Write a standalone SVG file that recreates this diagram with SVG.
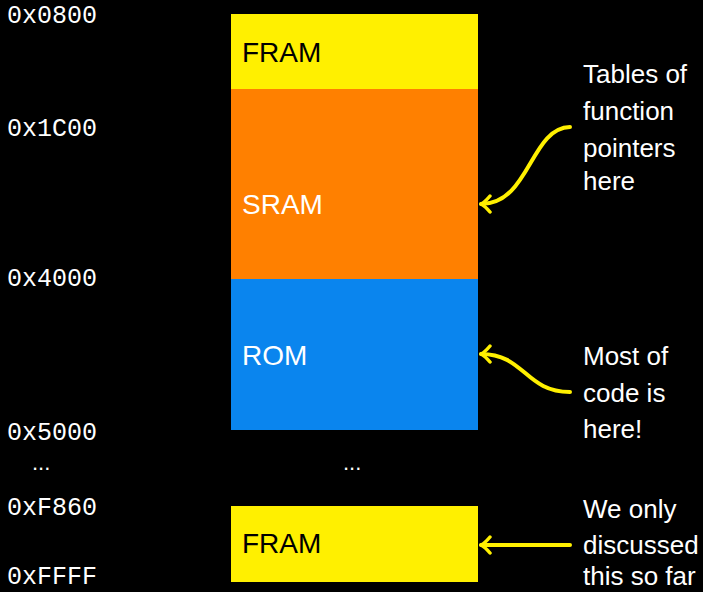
<svg xmlns="http://www.w3.org/2000/svg" width="703" height="592" viewBox="0 0 703 592">
  <defs>
    <style>
      .addr { font-family: "Liberation Mono", "Courier New", monospace; font-size: 25px; fill: #ffffff; }
      .seg { font-family: "Liberation Sans", Arial, sans-serif; font-size: 28px; }
      .note { font-family: "Liberation Sans", Arial, sans-serif; font-size: 26px; fill: #ffffff; }
      .dots { font-family: "Liberation Sans", Arial, sans-serif; font-size: 22px; fill: #ffffff; }
      .wire { fill: none; stroke: #fff000; stroke-width: 4; stroke-linecap: round; }
    </style>
    <marker id="tip" viewBox="-12 -10 14 20" markerWidth="14" markerHeight="20" refX="0" refY="0" orient="auto" markerUnits="userSpaceOnUse">
      <path d="M-9,-8 Q-4,-2 0,0 Q-4,2 -9,8" fill="none" stroke="#fff000" stroke-width="3.5" stroke-linecap="round" stroke-linejoin="round"/>
    </marker>
  </defs>

  <rect width="703" height="592" fill="#000000"/>

  <!-- address column -->
  <g id="addresses">
    <text class="addr" x="7" y="23">0x0800</text>
    <text class="addr" x="7" y="136">0x1C00</text>
    <text class="addr" x="7" y="286">0x4000</text>
    <text class="addr" x="7" y="440">0x5000</text>
    <text class="dots" x="32" y="470">...</text>
    <text class="addr" x="7" y="515">0xF860</text>
    <text class="addr" x="7" y="584">0xFFFF</text>
  </g>

  <!-- memory segments -->
  <g id="fram-low">
    <rect x="231" y="14" width="247" height="76" fill="#fff000"/>
    <text class="seg" x="242" y="62" fill="#000000">FRAM</text>
  </g>
  <g id="sram">
    <rect x="231" y="89" width="247" height="190" fill="#ff8000"/>
    <text class="seg" x="242" y="214" fill="#ffffff">SRAM</text>
  </g>
  <g id="rom">
    <rect x="231" y="279" width="247" height="151" fill="#0a85ee"/>
    <text class="seg" x="242" y="365" fill="#ffffff">ROM</text>
  </g>
  <g id="gap">
    <text class="dots" x="343" y="470">...</text>
  </g>
  <g id="fram-high">
    <rect x="231" y="506" width="247" height="76" fill="#fff000"/>
    <text class="seg" x="242" y="553" fill="#000000">FRAM</text>
  </g>

  <!-- annotations -->
  <g id="note-tables">
    <text class="note" x="583" y="83">Tables of</text>
    <text class="note" x="583" y="120">function</text>
    <text class="note" x="583" y="157">pointers</text>
    <text class="note" x="583" y="190">here</text>
  </g>
  <g id="note-code">
    <text class="note" x="583" y="365">Most of</text>
    <text class="note" x="583" y="402">code is</text>
    <text class="note" x="583" y="438">here!</text>
  </g>
  <g id="note-fram">
    <text class="note" x="583" y="518">We only</text>
    <text class="note" x="583" y="554">discussed</text>
    <text class="note" x="583" y="585">this so far</text>
  </g>

  <!-- connectors -->
  <g id="connectors">
    <path class="wire" d="M570,127 C530,128 530,204 481,204" marker-end="url(#tip)"/>
    <path class="wire" d="M570,392 C525,392 525,354 481,354" marker-end="url(#tip)"/>
    <path class="wire" d="M570,545 L481,545" marker-end="url(#tip)"/>
  </g>
</svg>
